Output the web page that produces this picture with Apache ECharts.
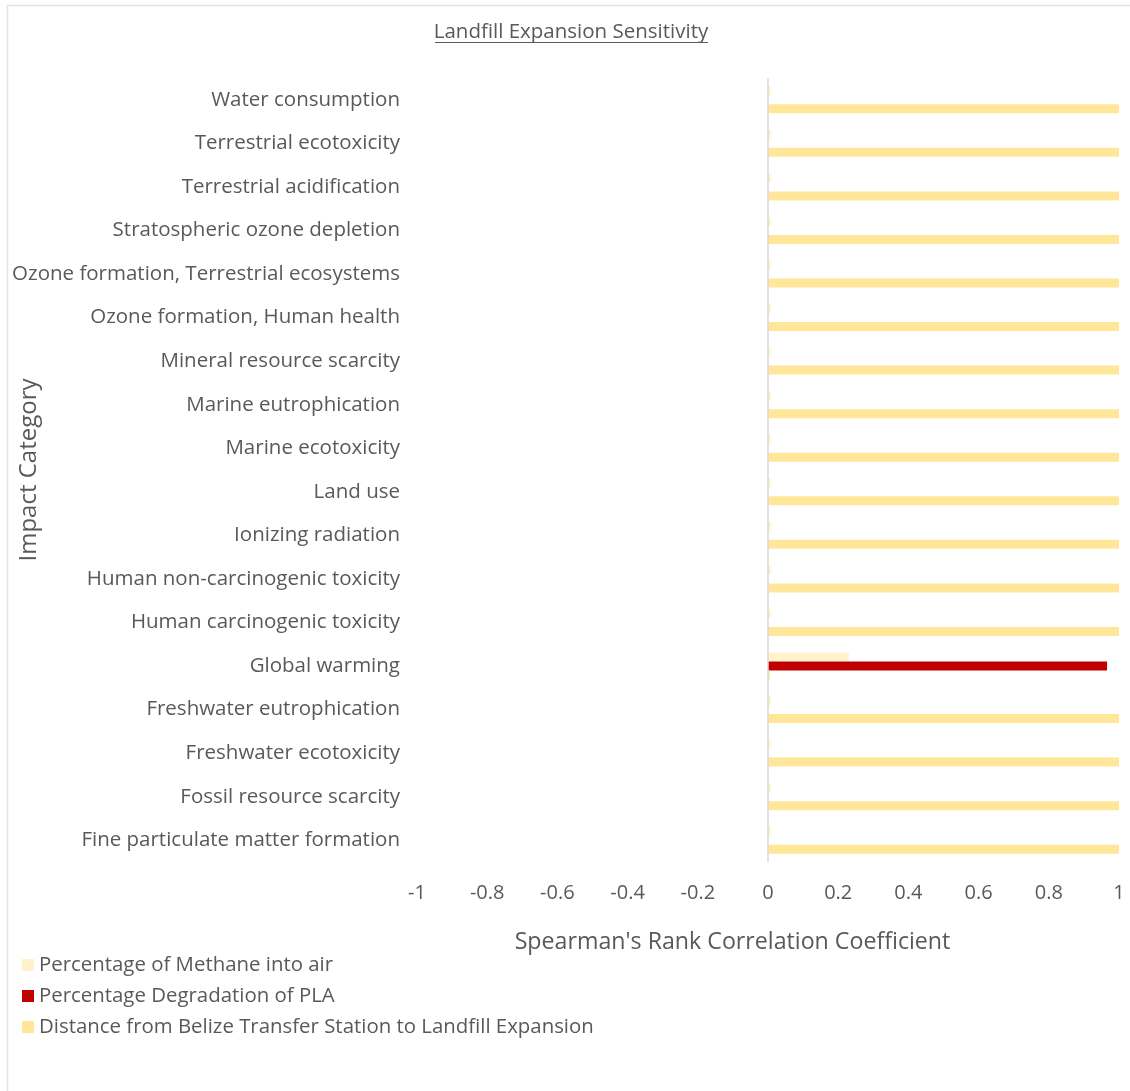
<!DOCTYPE html>
<html>
<head>
<meta charset="utf-8">
<title>Landfill Expansion Sensitivity</title>
<script src="https://cdn.jsdelivr.net/npm/echarts@6/dist/echarts.min.js"></script>
<style>
  html, body { margin: 0; padding: 0; background: #ffffff; }
  #chart { width: 1130px; height: 1091px; }
</style>
</head>
<body>
<div id="chart"></div>
<script>
// Impact categories, bottom to top
const categories = [
  'Fine particulate matter formation',
  'Fossil resource scarcity',
  'Freshwater ecotoxicity',
  'Freshwater eutrophication',
  'Global warming',
  'Human carcinogenic toxicity',
  'Human non-carcinogenic toxicity',
  'Ionizing radiation',
  'Land use',
  'Marine ecotoxicity',
  'Marine eutrophication',
  'Mineral resource scarcity',
  'Ozone formation, Human health',
  'Ozone formation, Terrestrial ecosystems',
  'Stratospheric ozone depletion',
  'Terrestrial acidification',
  'Terrestrial ecotoxicity',
  'Water consumption'
];

// Spearman's rank correlation coefficients per parameter
const methaneIntoAir = [0.008, 0.008, 0.008, 0.008, 0.23, 0.008, 0.008, 0.008, 0.008, 0.008, 0.008, 0.008, 0.008, 0.008, 0.008, 0.008, 0.008, 0.008];
const plaDegradation = [0, 0, 0, 0, 0.966, 0, 0, 0, 0, 0, 0, 0, 0, 0, 0, 0, 0, 0];
const transferDistance = [1, 1, 1, 1, 0.005, 1, 1, 1, 1, 1, 1, 1, 1, 1, 1, 1, 1, 1];

const xTicks = [-1, -0.8, -0.6, -0.4, -0.2, 0, 0.2, 0.4, 0.6, 0.8, 1];

const seriesNames = [
  'Percentage of Methane into air',
  'Percentage Degradation of PLA',
  'Distance from Belize Transfer Station to Landfill Expansion'
];

const textColor = '#595959';
const fontFamily = '"Open Sans", Lato, sans-serif';

const chart = echarts.init(document.getElementById('chart'), null, { renderer: 'canvas' });

const barCommon = {
  type: 'bar',
  barWidth: 9,
  barGap: '0%',
  silent: true
};

chart.setOption({
  backgroundColor: '#ffffff',
  animation: false,
  textStyle: { fontFamily: fontFamily, color: textColor },
  graphic: [
    {
      type: 'rect',
      shape: { x: 7.5, y: 5.5, width: 1140, height: 1100 },
      style: { fill: 'none', stroke: '#e3e3e3', lineWidth: 1.5 },
      silent: true
    },
    {
      type: 'text',
      x: 571, y: 32,
      style: {
        text: 'Landfill Expansion Sensitivity',
        fill: textColor,
        font: '20.5px ' + fontFamily,
        align: 'center',
        verticalAlign: 'middle'
      },
      silent: true
    },
    {
      type: 'line',
      shape: { x1: 435, y1: 42.5, x2: 708, y2: 42.5 },
      style: { stroke: textColor, lineWidth: 1 },
      silent: true
    },
    {
      // vertical axis title, reading bottom to top
      type: 'text',
      x: 29, y: 470,
      rotation: Math.PI / 2,
      style: {
        text: 'Impact Category',
        fill: textColor,
        font: '24px ' + fontFamily,
        align: 'center',
        verticalAlign: 'middle'
      },
      silent: true
    }
  ],
  legend: {
    orient: 'vertical',
    left: 17,
    top: 950,
    data: seriesNames,
    icon: 'rect',
    itemWidth: 12,
    itemHeight: 12,
    itemGap: 11,
    selectedMode: false,
    textStyle: { fontSize: 20.4, lineHeight: 20, color: textColor, fontFamily: fontFamily }
  },
  grid: {
    left: 417,
    right: 11,
    top: 78,
    bottom: 229,
    containLabel: false,
    outerBoundsMode: 'none'
  },
  xAxis: {
    type: 'value',
    min: -1,
    max: 1,
    interval: 0.2,
    name: "Spearman's Rank Correlation Coefficient",
    nameLocation: 'middle',
    nameGap: 69,
    nameTextStyle: { fontSize: 23.2, color: textColor, fontFamily: fontFamily, padding: [0, 71, 0, 0] },
    axisLine: { show: false },
    axisTick: { show: false },
    splitLine: { show: false },
    axisLabel: {
      fontSize: 20,
      color: textColor,
      margin: 21,
      formatter: function (v) {
        const t = xTicks.find(function (k) { return Math.abs(k - v) < 1e-9; });
        return t === undefined ? '' : String(t);
      }
    }
  },
  yAxis: {
    type: 'category',
    data: categories,
    axisLine: { show: false, onZero: false },
    axisTick: { show: false },
    splitLine: { show: false },
    axisLabel: { fontSize: 20.5, color: textColor, margin: 17 }
  },
  series: [
    // first series sits at the top of each category band
    Object.assign({}, barCommon, {
      name: seriesNames[0],
      data: methaneIntoAir,
      itemStyle: { color: '#FFF2CC' },
      markLine: {
        silent: true,
        symbol: 'none',
        label: { show: false },
        lineStyle: { color: '#d9d9d9', width: 1.5, type: 'solid' },
        data: [{ xAxis: 0 }]
      }
    }),
    Object.assign({}, barCommon, {
      name: seriesNames[1],
      data: plaDegradation,
      itemStyle: { color: '#C00000' }
    }),
    Object.assign({}, barCommon, {
      name: seriesNames[2],
      data: transferDistance,
      itemStyle: { color: '#FFE699' }
    })
  ]
});
</script>
</body>
</html>
